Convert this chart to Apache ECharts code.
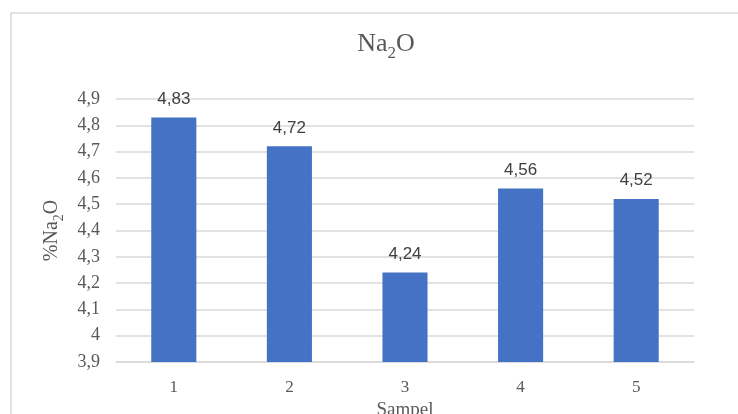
<!DOCTYPE html>
<html><head><meta charset="utf-8">
<script src="https://cdn.jsdelivr.net/npm/echarts@6/dist/echarts.min.js"></script>
<style>html,body{margin:0;padding:0;background:#fff;}#c{width:738px;height:414px;}</style>
</head><body><div id="c"></div>
<script>
const categories = ['1', '2', '3', '4', '5'];
const values = [4.83, 4.72, 4.24, 4.56, 4.52];
const yTicks = [3.9, 4.9, 0.1]; // min, max, step
const titleText = '{a|Na}{s|2}{a|O}';
const yName = '{a|%Na}{s|2}{a|O}';
const xName = 'Sampel';

const serif = '"Liberation Serif", "DejaVu Serif", serif';
const grey = '#595959';
const chart = echarts.init(document.getElementById('c'));
chart.setOption({
  animation: false,
  backgroundColor: '#fff',
  graphic: [{
    type: 'rect', shape: { x: 11, y: 13, width: 760, height: 440 },
    style: { fill: 'none', stroke: '#d9d9d9', lineWidth: 1.5 }, silent: true
  }],
  title: {
    text: titleText, left: 381, top: 24, textAlign: 'center',
    textStyle: {
      rich: {
        a: { fontFamily: serif, fontSize: 26, fontWeight: 'normal', color: grey, lineHeight: 28, verticalAlign: 'bottom' },
        s: { fontFamily: serif, fontSize: 17, fontWeight: 'normal', color: grey, lineHeight: 28, verticalAlign: 'bottom', padding: [0, 0, -5, 0] }
      }
    }
  },
  grid: { left: 116, right: 44, top: 99, bottom: 52, outerBoundsMode: 'none', containLabel: false },
  xAxis: {
    type: 'category', data: categories,
    name: xName, nameLocation: 'middle', nameGap: 36,
    nameTextStyle: { fontFamily: serif, fontSize: 19, color: grey },
    axisLine: { lineStyle: { color: '#d9d9d9', width: 1.5 } },
    axisTick: { show: false },
    axisLabel: { fontFamily: serif, fontSize: 17, color: grey, margin: 17 }
  },
  yAxis: {
    type: 'value', min: yTicks[0], max: yTicks[1], interval: yTicks[2],
    name: yName, nameLocation: 'middle', nameGap: 54,
    nameTextStyle: {
      rich: {
        a: { fontFamily: serif, fontSize: 20, color: grey, lineHeight: 22, verticalAlign: 'bottom' },
        s: { fontFamily: serif, fontSize: 14, color: grey, lineHeight: 22, verticalAlign: 'bottom', padding: [0, 0, -4, 0] }
      }
    },
    axisLine: { show: false }, axisTick: { show: false },
    splitLine: { lineStyle: { color: '#d9d9d9', width: 1.5 } },
    axisLabel: {
      fontFamily: serif, fontSize: 18, color: grey, margin: 16,
      formatter: v => (Math.round(v * 10) / 10).toString().replace('.', ',')
    }
  },
  series: [{
    type: 'bar', data: values, barWidth: '39%',
    itemStyle: { color: '#4472C4' },
    label: {
      show: true, position: 'top', distance: 10,
      fontFamily: '"Liberation Sans", "DejaVu Sans", sans-serif', fontSize: 17, color: '#404040',
      formatter: p => p.value.toFixed(2).replace('.', ',')
    }
  }]
});
</script></body></html>
